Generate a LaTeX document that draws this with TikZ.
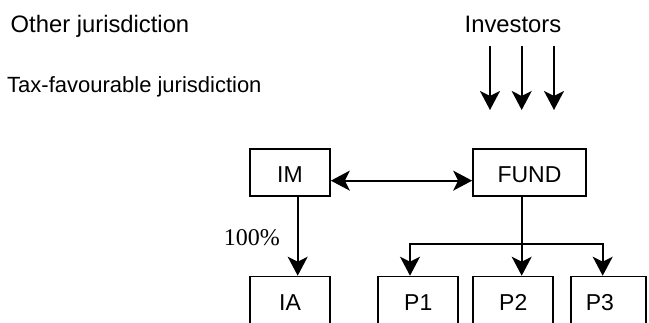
\documentclass[tikz,border=0pt]{standalone}
\usepackage{fontspec}
\setmainfont{Liberation Sans}
\newfontfamily\serifnum{Liberation Serif}
\usetikzlibrary{arrows.meta}
\begin{document}
\begin{tikzpicture}[x=1pt,y=-1pt,
  every node/.style={font=\fontsize{23}{27}\selectfont},
  topbox/.style={draw, line width=1.7pt, inner xsep=0pt, inner ysep=0pt, anchor=north,
    text height=33.7pt, text depth=13.3pt},
  botbox/.style={draw, line width=1.7pt, inner xsep=0pt, inner ysep=0pt, anchor=north,
    text height=34.3pt, text depth=30pt, minimum width=80pt},
  conn/.style={line width=1.7pt},
  arr/.style={conn, -{Stealth[length=19pt,width=20pt,inset=5pt]}},
  darr/.style={conn, {Stealth[length=19pt,width=20pt,inset=5pt]}-{Stealth[length=19pt,width=20pt,inset=5pt]}},
  lbl/.style={inner sep=0pt, anchor=base west, font=\fontsize{23.8}{28}\selectfont}]
\useasboundingbox (0,0) rectangle (649,322);
\clip (0,0) rectangle (649,322);

% labels
\node[lbl] (other) at (10.5,32.5) {Other jurisdiction};
\node[lbl, font=\fontsize{22}{26}\selectfont] (tax) at (7,92.3) {Tax-favourable jurisdiction};
\node[lbl] (inv) at (464.5,32.7) {Investors};

% investor arrows
\coordinate (i1s) at (490,46);  \coordinate (i1e) at (490,110);
\coordinate (i2s) at (521.7,46); \coordinate (i2e) at (521.7,110);
\coordinate (i3s) at (554,46);  \coordinate (i3e) at (554,110);
\draw[arr] (i1s) -- (i1e);
\draw[arr] (i2s) -- (i2e);
\draw[arr] (i3s) -- (i3e);

% top boxes
\node[topbox, minimum width=80pt] (IM) at (290,148) {IM};
\node[topbox, minimum width=113pt] (FUND) at (529.5,148) {FUND};

% bottom boxes
\node[botbox] (IA) at (290,275.7) {IA};
\node[botbox] (P1) at (418.3,275.7) {P1};
\node[botbox] (P2) at (513.3,275.7) {P2};
\node[botbox, anchor=north west, minimum width=0pt, text width=75pt, align=left,
      inner xsep=0pt] (P3) at (570,275.7) {\hspace*{15pt}P3};

% connectors
\draw[darr] ([yshift=-8.3]IM.east) -- ([yshift=-8.3]FUND.west);
\draw[arr] ([xshift=7.7]IM.south) -- ([xshift=7.7]IA.north);
\node[inner sep=0pt, anchor=base east, font=\serifnum\fontsize{24}{28}\selectfont] (pct) at (280,245) {100\%};

\coordinate (br) at ([xshift=-7.8]FUND.south |- 0,244.3);
\draw[arr] ([xshift=-7.8]FUND.south) -- ([xshift=8.4]P2.north);
\draw[arr] (br) -| ([xshift=-8.3]P1.north);
\draw[arr] (br) -| ([xshift=32.7]P3.north west);
\end{tikzpicture}
\end{document}
